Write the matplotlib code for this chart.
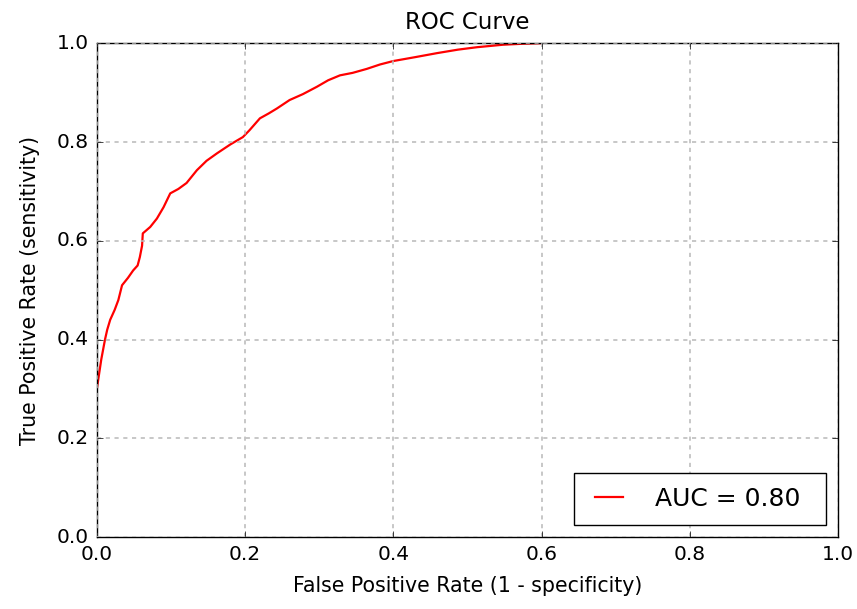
"""ROC curve chart recreated in classic matplotlib style."""
import matplotlib
matplotlib.use("Agg")
import matplotlib.pyplot as plt

# ROC points
fpr = [0.0, 0.0, 0.003, 0.006, 0.011, 0.014, 0.018, 0.024, 0.029, 0.034, 0.042,
       0.049, 0.055, 0.058, 0.061, 0.062, 0.072, 0.081, 0.090, 0.099, 0.110,
       0.121, 0.135, 0.148, 0.162, 0.180, 0.197, 0.206, 0.213, 0.22, 0.232,
       0.243, 0.26, 0.278, 0.297, 0.312, 0.328, 0.345, 0.364, 0.382, 0.4,
       0.43, 0.459, 0.487, 0.513, 0.548, 0.575, 0.598]
tpr = [0.26, 0.30, 0.33, 0.36, 0.40, 0.42, 0.44, 0.46, 0.48, 0.51, 0.525,
       0.54, 0.55, 0.567, 0.59, 0.615, 0.628, 0.645, 0.668, 0.696, 0.705,
       0.717, 0.743, 0.762, 0.777, 0.795, 0.81, 0.824, 0.836, 0.848, 0.858,
       0.868, 0.885, 0.897, 0.912, 0.925, 0.935, 0.94, 0.948, 0.957, 0.964,
       0.972, 0.98, 0.987, 0.992, 0.997, 0.999, 1.0]
auc_label = "AUC = 0.80"

plt.style.use("classic")
plt.rcParams["figure.facecolor"] = "white"
plt.rcParams["savefig.facecolor"] = "white"

fig, ax = plt.subplots(figsize=(8.57, 6.09), dpi=100)
fig.subplots_adjust(left=0.113, right=0.978, top=0.929, bottom=0.118)

ax.plot(fpr, tpr, color="red", lw=1.6, label=auc_label)
ax.set_xlim(0, 1); ax.set_ylim(0, 1)
ax.set_xticks([0, 0.2, 0.4, 0.6, 0.8, 1.0]); ax.set_yticks([0, 0.2, 0.4, 0.6, 0.8, 1.0])
ax.tick_params(labelsize=14.5, pad=6)
ax.grid(True, color="#b8b8b8", linestyle=(0, (3, 3.3)), linewidth=1.1)

ax.set_title("ROC Curve", fontsize=16.5, pad=10)
ax.set_xlabel("False Positive Rate (1 - specificity)", fontsize=14.8, labelpad=8)
ax.set_ylabel("True Positive Rate (sensitivity)", fontsize=14.8, labelpad=12)
# expand mode widens the frame like the reference, leaving room right of the text
ax.legend(loc="lower right", fontsize=18, handlelength=1.7, handletextpad=1.0,
          borderpad=0.55, borderaxespad=0.5, mode="expand",
          bbox_to_anchor=(0.627, 0.0, 0.373, 0.3))

fig.savefig("out.png", dpi=100)
